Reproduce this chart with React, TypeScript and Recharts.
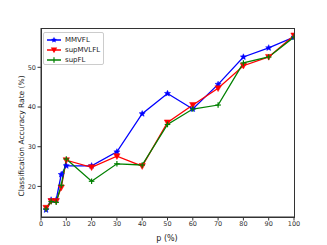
import React from 'react';
import { LineChart, Line, XAxis, YAxis } from 'recharts';

const pValues = [2, 4, 6, 8, 10, 20, 30, 40, 50, 60, 70, 80, 90, 100];
const mmvfl = [14.1, 16.6, 16.6, 23.0, 25.2, 25.2, 28.7, 38.3, 43.4, 39.5, 45.7, 52.6, 54.9, 57.6];
const supMVLFL = [14.6, 16.3, 16.3, 19.7, 26.6, 24.8, 27.6, 25.1, 36.1, 40.5, 44.7, 50.4, 52.6, 58.0];
const supFL = [14.3, 16.2, 16.0, 20.3, 26.9, 21.3, 25.7, 25.4, 35.6, 39.5, 40.5, 51.1, 52.6, 57.6];
const xTicks = [0, 10, 20, 30, 40, 50, 60, 70, 80, 90, 100];
const yTicks = [20, 30, 40, 50];

const data = pValues.map((p, i) => ({ p, mmvfl: mmvfl[i], supMVLFL: supMVLFL[i], supFL: supFL[i] }));

const BLUE = '#0000ff';
const RED = '#ff0000';
const GREEN = '#008000';
const AXIS = '#333333';
const FONT = 'DejaVu Sans, sans-serif';

const starPath = (cx: number, cy: number, r: number) => {
  const pts: string[] = [];
  for (let i = 0; i < 10; i++) {
    const rr = i % 2 === 0 ? r : r * 0.45;
    const a = -Math.PI / 2 + (i * Math.PI) / 5;
    pts.push(`${cx + rr * Math.cos(a)},${cy + rr * Math.sin(a)}`);
  }
  return pts.join(' ');
};

const StarDot = (props: any) => {
  const { cx, cy } = props;
  if (cx == null || cy == null) return null;
  return <polygon points={starPath(cx, cy, 3.2)} fill={BLUE} stroke={BLUE} strokeWidth={0.5} />;
};

const TriDot = (props: any) => {
  const { cx, cy } = props;
  if (cx == null || cy == null) return null;
  const s = 3.2;
  return <polygon points={`${cx - s},${cy - s * 0.8} ${cx + s},${cy - s * 0.8} ${cx},${cy + s}`} fill={RED} stroke={RED} strokeWidth={0.5} />;
};

const PlusDot = (props: any) => {
  const { cx, cy } = props;
  if (cx == null || cy == null) return null;
  const s = 2.8;
  return (
    <g stroke={GREEN} strokeWidth={1.2}>
      <line x1={cx - s} y1={cy} x2={cx + s} y2={cy} />
      <line x1={cx} y1={cy - s} x2={cx} y2={cy + s} />
    </g>
  );
};

const legendItems = [
  { name: 'MMVFL', color: BLUE, marker: 'star' },
  { name: 'supMVLFL', color: RED, marker: 'tri' },
  { name: 'supFL', color: GREEN, marker: 'plus' },
];

const LegendMarker = ({ marker, color }: { marker: string; color: string }) => {
  const cx = 8, cy = 4;
  return (
    <svg width={16} height={8} style={{ display: 'block' }}>
      <line x1={1} y1={cy} x2={15} y2={cy} stroke={color} strokeWidth={1.5} />
      {marker === 'star' && <polygon points={starPath(cx, cy, 3.2)} fill={color} />}
      {marker === 'tri' && <polygon points={`${cx - 3.2},${cy - 2.6} ${cx + 3.2},${cy - 2.6} ${cx},${cy + 3.2}`} fill={color} />}
      {marker === 'plus' && (
        <g stroke={color} strokeWidth={1.2}>
          <line x1={cx} y1={cy - 2.8} x2={cx} y2={cy + 2.8} />
        </g>
      )}
    </svg>
  );
};

export default function App() {
  return (
    <div style={{ position: 'absolute', left: 0, top: 0, width: 327, height: 245, background: '#fff' }}>
      <LineChart width={327} height={245} data={data} margin={{ top: 28, right: 33, bottom: 0, left: 0 }}>
        <XAxis
          dataKey="p"
          type="number"
          domain={[0, 100]}
          ticks={xTicks}
          interval={0}
          height={28}
          tickSize={3.5}
          tickMargin={1}
          stroke={AXIS}
          tick={{ fontSize: 6.5, fill: AXIS, fontFamily: FONT }}
          allowDataOverflow
        />
        <YAxis
          type="number"
          domain={[12.3, 59.9]}
          ticks={yTicks}
          interval={0}
          width={41}
          tickSize={3.5}
          tickMargin={1.5}
          stroke={AXIS}
          tick={{ fontSize: 6.5, fill: AXIS, fontFamily: FONT }}
          allowDataOverflow
        />
        <Line dataKey="mmvfl" stroke={BLUE} strokeWidth={1.3} dot={<StarDot />} isAnimationActive={false} />
        <Line dataKey="supMVLFL" stroke={RED} strokeWidth={1.3} dot={<TriDot />} isAnimationActive={false} />
        <Line dataKey="supFL" stroke={GREEN} strokeWidth={1.3} dot={<PlusDot />} isAnimationActive={false} />
      </LineChart>
      <div
        style={{
          position: 'absolute',
          left: 40.5,
          top: 27.5,
          width: 254,
          height: 190,
          boxSizing: 'border-box',
          border: `1px solid ${AXIS}`,
          pointerEvents: 'none',
        }}
      />
      <div
        style={{
          position: 'absolute',
          left: 43,
          top: 32,
          width: 61,
          height: 33,
          boxSizing: 'border-box',
          border: '1px solid #cccccc',
          borderRadius: 2,
          background: 'rgba(255,255,255,0.8)',
          padding: '2px 0 0 2px',
          fontFamily: FONT,
          fontSize: 7,
          color: '#222',
        }}
      >
        {legendItems.map((it) => (
          <div key={it.name} style={{ display: 'flex', alignItems: 'center', height: 10, lineHeight: '10px' }}>
            <LegendMarker marker={it.marker} color={it.color} />
            <span style={{ marginLeft: 3 }}>{it.name}</span>
          </div>
        ))}
      </div>
      <div
        style={{
          position: 'absolute',
          left: 167,
          top: 238,
          transform: 'translate(-50%, -50%)',
          fontFamily: FONT,
          fontSize: 8,
          color: '#222',
          whiteSpace: 'nowrap',
        }}
      >
        p (%)
      </div>
      <div
        style={{
          position: 'absolute',
          left: 20.5,
          top: 136,
          transform: 'translate(-50%, -50%) rotate(-90deg)',
          fontFamily: FONT,
          fontSize: 7.5,
          color: '#222',
          whiteSpace: 'nowrap',
        }}
      >
        Classification Accuracy Rate (%)
      </div>
    </div>
  );
}
